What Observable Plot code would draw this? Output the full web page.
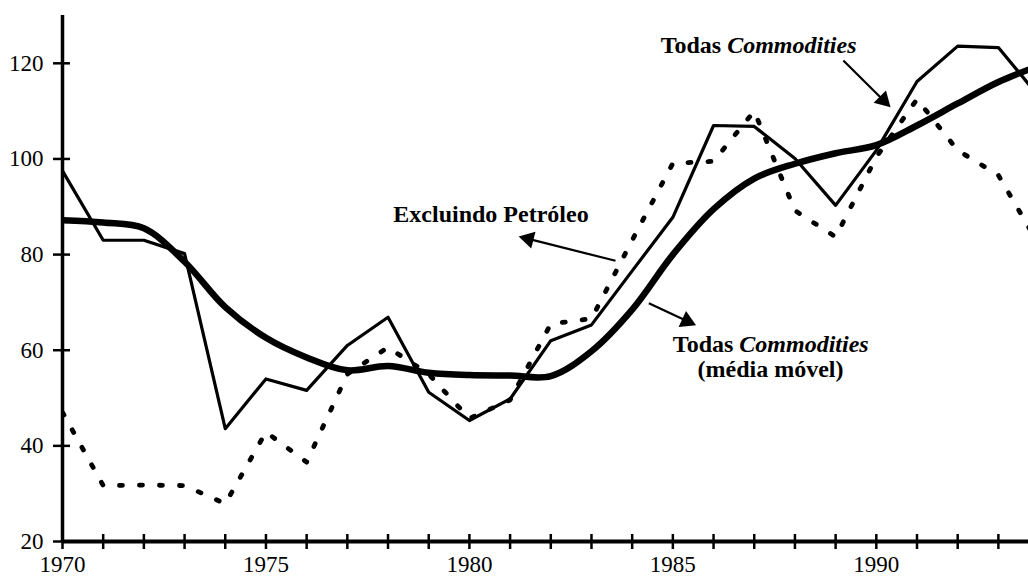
<!DOCTYPE html>
<html>
<head>
<meta charset="utf-8">
<script src="https://cdn.jsdelivr.net/npm/d3@7"></script>
<script src="https://cdn.jsdelivr.net/npm/@observablehq/plot@0.6"></script>
<style>
html, body { margin: 0; padding: 0; background: #fff; }
#chart svg { display: block; }
</style>
</head>
<body>
<div id="chart"></div>
<script>
// ---- Data ----
const years = [1970,1971,1972,1973,1974,1975,1976,1977,1978,1979,1980,1981,1982,1983,1984,1985,1986,1987,1988,1989,1990,1991,1992,1993,1994];
// Todas Commodities (thin solid line)
const todasCommodities = [97.5,83,83,80.2,43.6,54,51.6,61,66.9,51.2,45.3,49.8,62,65.3,76.6,87.8,107,106.8,100.1,90.3,101.8,116.2,123.6,123.3,113];
// Excluindo Petróleo (dotted line)
const excluindoPetroleo = [47,31.7,31.8,31.7,27.9,42.9,36.6,55,60.6,55,45.7,49.6,65.5,66.6,83,99.1,99.5,110,89.2,83.7,100.4,112.5,101.8,96.6,82];
// Todas Commodities (média móvel) (thick line)
const mediaMovel = [87.2,86.7,85.5,78.5,69,62.6,58.5,55.8,56.7,55.3,54.8,54.7,54.6,59.8,68.5,80,89.5,95.9,99,101.2,102.9,107,111.6,116.1,119.5];

const yTicks = [20,40,60,80,100,120];
const xTicks = d3.range(1970, 1994);
const xLabels = [1970,1975,1980,1985,1990];

// Annotation anchors (in data units: year, index value)
const arrowTails = [[1989.19,120.6],[1983.59,78.7],[1984.41,69.8]];
const arrowTips  = [[1990.35,110.8],[1981.21,83.8],[1985.57,65.2]];

// ---- Layout ----
const W = 1028, H = 583;
const mL = 62, mR = 0, mT = 15, mB = 42;
const xDomain = [1970, 1993.74];
const yDomain = [20, 130];
const FONT = "'Liberation Serif', 'Times New Roman', serif";

const rows = vals => years.map((year, i) => ({year, value: vals[i]}));

// Scales used to orient the arrowheads in screen space
const xs = Plot.scale({x: {domain: xDomain, range: [mL, W - mR]}});
const ys = Plot.scale({y: {domain: yDomain, range: [H - mB, mT]}});

const HEAD_R = 6.5;
const headBack = 2 * Math.sqrt(Math.PI * HEAD_R * HEAD_R / (3 * Math.sqrt(3)));
const shafts = [], heads = [];
arrowTails.forEach((t, i) => {
  const tip = arrowTips[i];
  const px0 = xs.apply(t[0]), py0 = ys.apply(t[1]);
  const px1 = xs.apply(tip[0]), py1 = ys.apply(tip[1]);
  const len = Math.hypot(px1 - px0, py1 - py0);
  const ux = (px1 - px0) / len, uy = (py1 - py0) / len;
  const cx = px1 - headBack * ux, cy = py1 - headBack * uy;
  const c = [xs.invert(cx), ys.invert(cy)];
  shafts.push({x1: t[0], y1: t[1], x2: c[0], y2: c[1]});
  heads.push({x: c[0], y: c[1], angle: Math.atan2(ux, -uy) * 180 / Math.PI});
});

const textOpts = {fontFamily: FONT, fontSize: 24, fontWeight: "bold", fill: "black", lineAnchor: "bottom"};

const chart = Plot.plot({
  width: W, height: H,
  marginLeft: mL, marginRight: mR, marginTop: mT, marginBottom: mB,
  x: {domain: xDomain, label: null},
  y: {domain: yDomain, label: null},
  style: {fontFamily: FONT, fontSize: "22px", color: "black", background: "white", overflow: "hidden"},
  marks: [
    // series
    Plot.line(rows(excluindoPetroleo), {x: "year", y: "value", stroke: "black", strokeWidth: 4.8, strokeDasharray: "3,17", strokeLinecap: "round", clip: true}),
    Plot.line(rows(todasCommodities), {x: "year", y: "value", stroke: "black", strokeWidth: 3.2, clip: true}),
    Plot.line(rows(mediaMovel), {x: "year", y: "value", stroke: "black", strokeWidth: 6.5, curve: "catmull-rom", clip: true}),
    // axes
    Plot.ruleX([1970], {stroke: "black", strokeWidth: 3.5}),
    Plot.ruleY([20], {stroke: "black", strokeWidth: 4}),
    Plot.axisY(yTicks, {tickSize: 17, dx: 8, tickPadding: 10, strokeWidth: 2.5, label: null, fontSize: 23, fontFamily: FONT}),
    Plot.axisX(xTicks, {tickSize: 15, dy: -7, tickPadding: 6, strokeWidth: 2.5, label: null, fontSize: 23, fontFamily: FONT,
      tickFormat: d => xLabels.includes(d) ? String(d) : ""}),
    // arrows
    Plot.link(shafts, {x1: "x1", y1: "y1", x2: "x2", y2: "y2", stroke: "black", strokeWidth: 2.2}),
    Plot.dot(heads, {x: "x", y: "y", symbol: "triangle", r: HEAD_R, fill: "black", stroke: "none", rotate: "angle"}),
    // annotations
    Plot.text([{x: 1986.26, y: 122.1}], {x: "x", y: "y", text: () => "Todas", textAnchor: "end", dx: -3, ...textOpts}),
    Plot.text([{x: 1986.26, y: 122.1}], {x: "x", y: "y", text: () => "Commodities", textAnchor: "start", dx: 3, fontStyle: "italic", ...textOpts}),
    Plot.text([{x: 1980.53, y: 86.9}], {x: "x", y: "y", text: () => "Excluindo Petróleo", textAnchor: "middle", ...textOpts}),
    Plot.text([{x: 1986.56, y: 59.6}], {x: "x", y: "y", text: () => "Todas", textAnchor: "end", dx: -3, ...textOpts}),
    Plot.text([{x: 1986.56, y: 59.6}], {x: "x", y: "y", text: () => "Commodities", textAnchor: "start", dx: 3, fontStyle: "italic", ...textOpts}),
    Plot.text([{x: 1987.40, y: 54.5}], {x: "x", y: "y", text: () => "(média móvel)", textAnchor: "middle", ...textOpts})
  ]
});
document.getElementById("chart").appendChild(chart);
</script>
</body>
</html>
